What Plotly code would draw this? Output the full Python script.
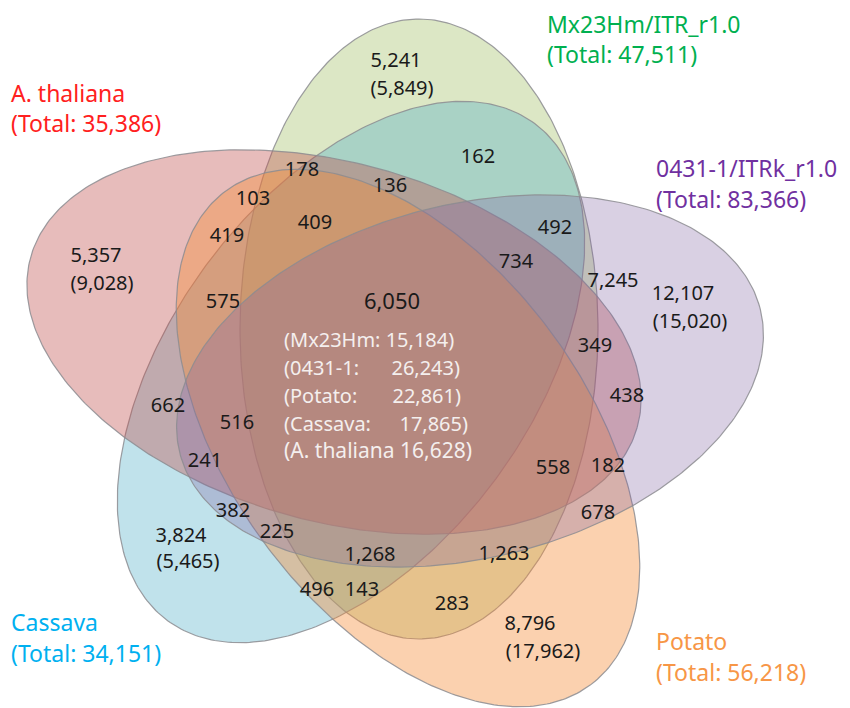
import numpy as np
import plotly.graph_objects as go

# ---------------- data ----------------
set_names = ["A. thaliana", "Mx23Hm/ITR_r1.0", "0431-1/ITRk_r1.0", "Potato", "Cassava"]
set_totals = ["35,386", "47,511", "83,366", "56,218", "34,151"]
unique_counts = ["5,357", "5,241", "12,107", "8,796", "3,824"]
unique_counts_all = ["9,028", "5,849", "15,020", "17,962", "5,465"]

overlap_counts = ["162", "178", "136", "103", "419", "409", "492", "734", "7,245",
                  "575", "349", "438", "662", "516", "241", "558", "182", "382",
                  "225", "678", "1,268", "1,263", "496", "143", "283"]

core_count = "6,050"
core_species = ["Mx23Hm:", "0431-1:", "Potato:", "Cassava:", "A. thaliana"]
core_species_counts = ["15,184", "26,243", "22,861", "17,865", "16,628"]

# ---------------- layout / style ----------------
W, H = 850, 708
# ellipse geometry: centre x, centre y, semi-major, semi-minor, angle (deg, screen coords)
ell_geom = {
    "A. thaliana": (334, 342, 315, 179, 15.7),
    "Mx23Hm/ITR_r1.0": (419, 329, 310, 179, 90.0),
    "0431-1/ITRk_r1.0": (470, 381, 299, 177, -13.8),
    "Potato": (408, 438, 307, 178, 53.6),
    "Cassava": (351, 372, 309, 180, -53.6),
}
ell_fill = {
    "A. thaliana": "rgba(192,80,77,0.38)",
    "Mx23Hm/ITR_r1.0": "rgba(155,187,89,0.35)",
    "0431-1/ITRk_r1.0": "rgba(128,100,162,0.30)",
    "Potato": "rgba(245,140,55,0.40)",
    "Cassava": "rgba(75,172,198,0.35)",
}
draw_order = ["Mx23Hm/ITR_r1.0", "Cassava", "A. thaliana", "Potato", "0431-1/ITRk_r1.0"]
title_color = {
    "A. thaliana": "#FF2020",
    "Mx23Hm/ITR_r1.0": "#00B050",
    "0431-1/ITRk_r1.0": "#7030A0",
    "Potato": "#F79646",
    "Cassava": "#00B0F0",
}
title_pos = {  # left x, y of name line, y of total line
    "A. thaliana": (11, 96, 126),
    "Mx23Hm/ITR_r1.0": (547, 27, 57),
    "0431-1/ITRk_r1.0": (656, 171, 202),
    "Potato": (656, 644, 675),
    "Cassava": (11, 625, 656),
}
unique_pos = {  # (x, y) of count, (x, y) of bracketed count
    "A. thaliana": ((96, 257), (102, 285)),
    "Mx23Hm/ITR_r1.0": ((396, 62), (402, 90)),
    "0431-1/ITRk_r1.0": ((683, 295), (690, 323)),
    "Potato": ((530, 625), (543, 653)),
    "Cassava": ((181, 537), (188, 563)),
}
overlap_pos = [(478, 158), (302, 171), (390, 187), (253, 200), (227, 237), (315, 224),
               (555, 229), (516, 263), (613, 282), (223, 303), (595, 347), (627, 397),
               (168, 407), (237, 424), (205, 462), (553, 469), (608, 467), (233, 512),
               (277, 533), (598, 514), (370, 556), (504, 555), (317, 591), (362, 591),
               (452, 605)]
core_pos = (392, 303)
core_left_x = 284
core_right_x = [None, 460, 461, 468, None]
core_y = [342, 370, 398, 426, 453]

NUM_FONT = "Noto Sans"
num_size = 20

fig = go.Figure()

# ellipses
t = np.linspace(0, 2 * np.pi, 361)
for name in draw_order:
    cx, cy, a, b, ang = ell_geom[name]
    th = np.deg2rad(ang)
    xs = cx + a * np.cos(t) * np.cos(th) - b * np.sin(t) * np.sin(th)
    ys = cy + a * np.cos(t) * np.sin(th) + b * np.sin(t) * np.cos(th)
    fig.add_trace(go.Scatter(x=xs, y=ys, mode="lines", fill="toself",
                             fillcolor=ell_fill[name],
                             line=dict(color="rgba(140,140,145,0.85)", width=1.2),
                             hoverinfo="skip", showlegend=False))

# set titles
for name, total in zip(set_names, set_totals):
    x0, y1, y2 = title_pos[name]
    fig.add_trace(go.Scatter(x=[x0, x0], y=[y1, y2], mode="text",
                             text=[name, "(Total: " + total + ")"],
                             textposition="middle right",
                             textfont=dict(family="Noto Sans", size=23, color=title_color[name]),
                             hoverinfo="skip", showlegend=False))

# unique counts
ux, uy, ut = [], [], []
for name, c1, c2 in zip(set_names, unique_counts, unique_counts_all):
    (x1, y1), (x2, y2) = unique_pos[name]
    ux += [x1, x2]
    uy += [y1, y2]
    ut += [c1, "(" + c2 + ")"]
fig.add_trace(go.Scatter(x=ux, y=uy, mode="text", text=ut, textposition="middle center",
                         textfont=dict(family=NUM_FONT, size=num_size, color="#1a1a1a"),
                         hoverinfo="skip", showlegend=False))

# overlap counts
fig.add_trace(go.Scatter(x=[p[0] for p in overlap_pos], y=[p[1] for p in overlap_pos],
                         mode="text", text=overlap_counts, textposition="middle center",
                         textfont=dict(family=NUM_FONT, size=num_size, color="#1a1a1a"),
                         hoverinfo="skip", showlegend=False))

# core
fig.add_trace(go.Scatter(x=[core_pos[0]], y=[core_pos[1]], mode="text", text=[core_count],
                         textposition="middle center",
                         textfont=dict(family=NUM_FONT, size=22, color="#1a1a1a"),
                         hoverinfo="skip", showlegend=False))

left_txt, left_x, left_y, right_txt, right_x, right_y = [], [], [], [], [], []
for i, (sp, cnt) in enumerate(zip(core_species, core_species_counts)):
    if core_right_x[i] is None:
        left_txt.append("(" + sp + " " + cnt + ")")
    else:
        left_txt.append("(" + sp)
        right_txt.append(cnt + ")")
        right_x.append(core_right_x[i])
        right_y.append(core_y[i])
    left_x.append(core_left_x)
    left_y.append(core_y[i])
sizes = [20, 20, 20, 20, 21]
fig.add_trace(go.Scatter(x=left_x, y=left_y, mode="text", text=left_txt,
                         textposition="middle right",
                         textfont=dict(family=NUM_FONT, size=sizes, color="#f4efee"),
                         hoverinfo="skip", showlegend=False))
fig.add_trace(go.Scatter(x=right_x, y=right_y, mode="text", text=right_txt,
                         textposition="middle left",
                         textfont=dict(family=NUM_FONT, size=20, color="#f4efee"),
                         hoverinfo="skip", showlegend=False))

fig.update_layout(
    width=W, height=H,
    margin=dict(l=0, r=0, t=0, b=0),
    paper_bgcolor="white", plot_bgcolor="white",
    xaxis=dict(range=[0, W], visible=False, fixedrange=True),
    yaxis=dict(range=[H, 0], visible=False, fixedrange=True),
    showlegend=False,
)

fig.write_html("out.html", config={"displayModeBar": False},
               post_script="document.body.style.margin='0px';document.body.style.overflow='hidden';")
